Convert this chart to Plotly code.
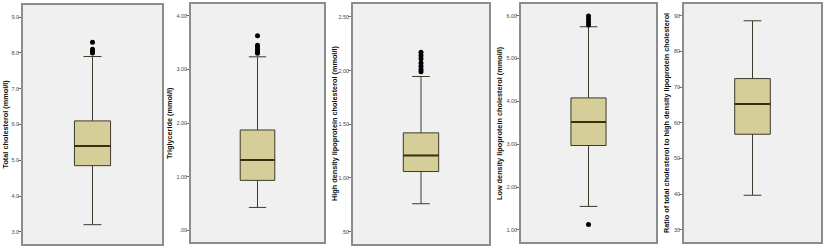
import plotly.graph_objects as go

# ---- data ----
titles = ["Total cholesterol (mmol/l)", "Triglyceride (mmol/l)",
          "High density lipoprotein cholesterol (mmol/l)",
          "Low density lipoprotein cholesterol (mmol/l)",
          "Ratio of total cholesterol to high density lipoprotein cholesterol"]
q1 = [4.85, 0.93, 1.06, 2.97, 56.8]
median = [5.40, 1.31, 1.21, 3.52, 65.3]
q3 = [6.10, 1.87, 1.42, 4.08, 72.4]
lowerfence = [3.20, 0.425, 0.76, 1.55, 39.7]
upperfence = [7.90, 3.235, 1.945, 5.74, 88.6]
outliers = [
    [8.30, 8.10, 8.05, 8.00],
    [3.63, 3.45, 3.42, 3.38, 3.35, 3.32, 3.30],
    [2.17, 2.14, 2.11, 2.07, 2.04, 2.01, 1.99],
    [5.99, 5.92, 5.85, 5.78, 1.13],
    [],
]
tick_vals = [
    [3.0, 4.0, 5.0, 6.0, 7.0, 8.0, 9.0],
    [0.0, 1.0, 2.0, 3.0, 4.0],
    [0.5, 1.0, 1.5, 2.0, 2.5],
    [1.0, 2.0, 3.0, 4.0, 5.0, 6.0],
    [30, 40, 50, 60, 70, 80, 90],
]
tick_text = [
    ["3.0", "4.0", "5.0", "6.0", "7.0", "8.0", "9.0"],
    [".00", "1.00", "2.00", "3.00", "4.00"],
    [".50", "1.00", "1.50", "2.00", "2.50"],
    ["1.00", "2.00", "3.00", "4.00", "5.00", "6.00"],
    ["30", "40", "50", "60", "70", "80", "90"],
]
y_ranges = [[2.66, 9.34], [-0.22, 4.22], [0.385, 2.62], [0.72, 6.27], [26.6, 93.3]]

# ---- layout geometry (pixels) ----
W, H = 825, 248
panel_x = [(23, 162), (191, 324), (353, 489), (521, 656), (684, 821)]
panel_y = [(5, 244), (4, 242), (4, 244), (4, 242), (4, 242)]
title_x = [5, 169, 334, 499, 666]

fig = go.Figure()
layout = dict(template="none", width=W, height=H, margin=dict(l=0, r=0, t=0, b=0),
              paper_bgcolor="white", plot_bgcolor="#f0f0f0", showlegend=False,
              font=dict(family="Liberation Sans, Arial, sans-serif"))
annotations = []
for i in range(5):
    n = "" if i == 0 else str(i + 1)
    xa, ya = "x" + n, "y" + n
    fig.add_trace(go.Box(
        x=[0], q1=[q1[i]], median=[median[i]], q3=[q3[i]],
        lowerfence=[lowerfence[i]], upperfence=[upperfence[i]],
        width=0.26, whiskerwidth=0.5, boxpoints=False,
        fillcolor="#d6ce98", line=dict(color="#3c3a2c", width=1),
        xaxis=xa, yaxis=ya, hoverinfo="skip"))
    # median drawn thicker
    fig.add_trace(go.Scatter(
        x=[-0.13, 0.13], y=[median[i], median[i]], mode="lines",
        line=dict(color="#3a3010", width=2), xaxis=xa, yaxis=ya, hoverinfo="skip"))
    if outliers[i]:
        fig.add_trace(go.Scatter(
            x=[0] * len(outliers[i]), y=outliers[i], mode="markers",
            marker=dict(color="black", size=5), xaxis=xa, yaxis=ya, hoverinfo="skip"))
    x0, x1 = panel_x[i]
    y0, y1 = panel_y[i]
    layout["xaxis" + n] = dict(domain=[x0 / W, x1 / W], range=[-0.5, 0.5],
                               showticklabels=False, showgrid=False, zeroline=False,
                               showline=True, linecolor="#8c8c8c", linewidth=1.5,
                               mirror=True, anchor=ya, ticks="", fixedrange=True,
                               automargin=False)
    layout["yaxis" + n] = dict(domain=[1 - y1 / H, 1 - y0 / H], range=y_ranges[i],
                               tickvals=tick_vals[i], ticktext=tick_text[i],
                               tickfont=dict(size=5.5, color="#4a4a4a"),
                               ticks="outside", ticklen=3, tickcolor="#777777",
                               tickwidth=1, ticklabelstandoff=-2,
                               showgrid=False, zeroline=False,
                               showline=True, linecolor="#8c8c8c", linewidth=1.5,
                               mirror=True, anchor=xa, fixedrange=True,
                               automargin=False)
    annotations.append(dict(x=title_x[i] / W, y=1 - ((y0 + y1) / 2) / H,
                            xref="paper", yref="paper", text="<b>" + titles[i] + "</b>",
                            textangle=-90, showarrow=False,
                            font=dict(size=7.3, color="#111111"),
                            xanchor="center", yanchor="middle"))
layout["annotations"] = annotations
fig.update_layout(**layout)
fig.write_html("out.html", config={"displayModeBar": False},
               post_script="document.body.style.margin='0px';document.body.style.overflow='hidden';")
